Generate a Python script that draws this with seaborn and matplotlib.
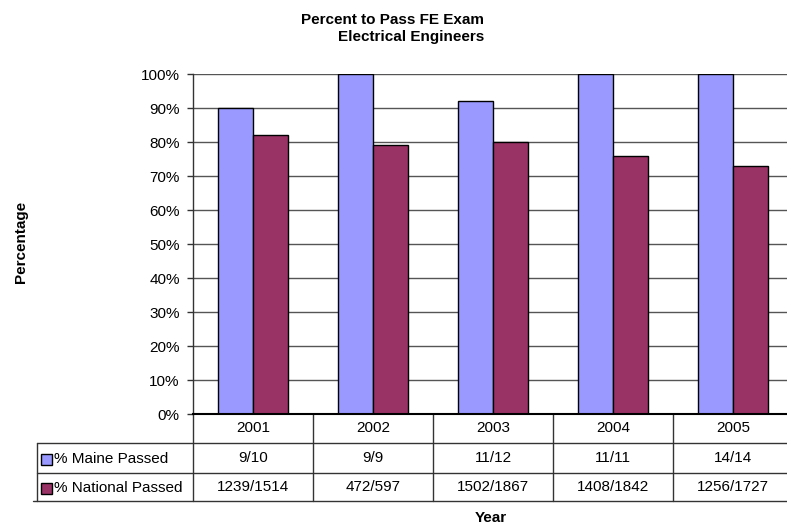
import matplotlib
matplotlib.use('Agg')
import matplotlib.pyplot as plt
import matplotlib.transforms as mtransforms
from matplotlib.lines import Line2D
from matplotlib.patches import Rectangle
import seaborn as sns
import pandas as pd

years = ['2001', '2002', '2003', '2004', '2005']
maine_pct = [90, 100, 92, 100, 100]
national_pct = [82, 79, 80, 76, 73]
maine_counts = ['9/10', '9/9', '11/12', '11/11', '14/14']
national_counts = ['1239/1514', '472/597', '1502/1867', '1408/1842', '1256/1727']
series = ['% Maine Passed', '% National Passed']
colors = ['#9999FF', '#993366']

df = pd.DataFrame({
    'Year': years * 2,
    'Series': [series[0]] * len(years) + [series[1]] * len(years),
    'Pct': maine_pct + national_pct,
})

sns.set_theme(style='white')
plt.rcParams['font.family'] = ['Liberation Sans', 'DejaVu Sans']
plt.rcParams['text.color'] = 'black'
plt.rcParams['ytick.color'] = '#333333'
plt.rcParams['ytick.labelcolor'] = 'black'

FS = 11
W, H = 787, 524
fig = plt.figure(figsize=(W / 100, H / 100), dpi=100)


def fx(px):
    return px / W


def fy(py):
    return 1 - py / H


# plot area in pixel positions of the reference
ax = fig.add_axes([fx(193), fy(414), fx(793) - fx(193), fy(74) - fy(414)])
ax.yaxis.grid(True, color='#555555', linewidth=1)
ax.set_axisbelow(True)
sns.barplot(data=df, x='Year', y='Pct', hue='Series',
            palette=dict(zip(series, colors)), width=0.58,
            edgecolor='black', linewidth=1, saturation=1,
            legend=False, ax=ax)

ax.set_xlim(-0.5, 4.5)
ax.set_ylim(0, 100)
ax.set_yticks(range(0, 101, 10))
ax.set_yticklabels([f'{v}%' for v in range(0, 101, 10)], fontsize=FS)
ax.set_xticks([])
ax.set_xlabel('')
ax.set_ylabel('')
ax.tick_params(axis='y', left=True, length=4.5, width=1, pad=5)
for s in ['top', 'right']:
    ax.spines[s].set_visible(False)
ax.spines['left'].set_color('#333333')
ax.spines['left'].set_linewidth(1)
ax.spines['bottom'].set_color('black')
ax.spines['bottom'].set_linewidth(1.5)

# data table under the chart
line_c = '#333333'
rows_y = [414, 443, 473, 501]
for y in rows_y[1:]:
    x0 = 33 if y == rows_y[-1] else 37
    fig.add_artist(Line2D([fx(x0), fx(793)], [fy(y), fy(y)],
                          transform=fig.transFigure, color=line_c, lw=1))
fig.add_artist(Line2D([fx(37), fx(37)], [fy(443), fy(rows_y[-1])],
                      transform=fig.transFigure, color=line_c, lw=1))
blend = mtransforms.blended_transform_factory(ax.transData, fig.transFigure)
for i in range(len(years)):
    ax.add_artist(Line2D([i - 0.5, i - 0.5], [fy(414), fy(rows_y[-1])],
                         transform=blend, color=line_c, lw=1, clip_on=False))

row_centers = [(rows_y[k] + rows_y[k + 1]) / 2 for k in range(3)]
for i, yr in enumerate(years):
    ax.text(i, fy(row_centers[0]), yr, transform=blend, ha='center', va='center', fontsize=FS)
    ax.text(i, fy(row_centers[1]), maine_counts[i], transform=blend, ha='center', va='center', fontsize=FS)
    ax.text(i, fy(row_centers[2]), national_counts[i], transform=blend, ha='center', va='center', fontsize=FS)

for k, (name, c) in enumerate(zip(series, colors)):
    yc = row_centers[k + 1] + 1
    fig.add_artist(Rectangle((fx(41), fy(yc + 6)), fx(11), fy(yc - 5) - fy(yc + 6),
                             transform=fig.transFigure, facecolor=c,
                             edgecolor='black', lw=1))
    fig.text(fx(54), fy(yc), name, ha='left', va='center', fontsize=FS)

fig.text(fx(484), fy(24), 'Percent to Pass FE Exam', ha='right', va='baseline',
         fontsize=FS, weight='bold')
fig.text(fx(484), fy(41), 'Electrical Engineers', ha='right', va='baseline',
         fontsize=FS, weight='bold')
fig.text(fx(21), fy(242), 'Percentage', rotation=90, ha='center', va='center',
         fontsize=FS, weight='bold')
fig.text(fx(491), fy(522), 'Year', ha='center', va='baseline',
         fontsize=FS, weight='bold')

fig.savefig('out.png', dpi=100)
